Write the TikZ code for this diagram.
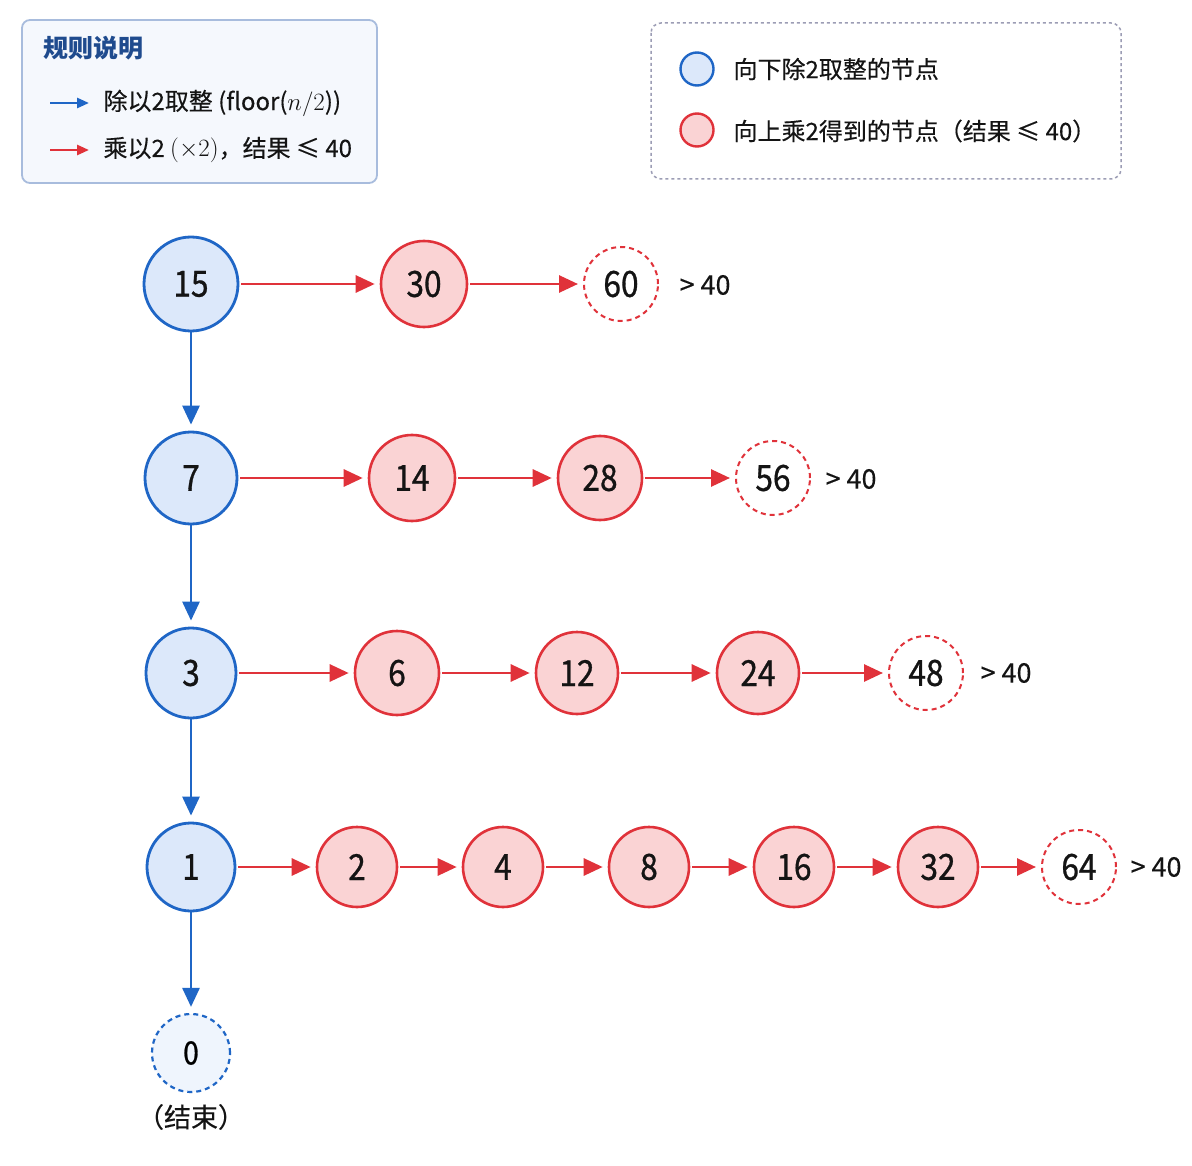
\documentclass[tikz,border=0pt]{standalone}
\usepackage{fontspec}
\setmainfont{Noto Sans CJK SC}
\newfontfamily\numfont[FakeBold=0.8,FakeStretch=0.88]{Noto Sans CJK SC}
\newfontfamily\lgfont[FakeBold=0.3]{Noto Sans CJK SC}
\usetikzlibrary{arrows.meta}
\definecolor{bblue}{HTML}{1F66C6}
\definecolor{bfill}{HTML}{DCE8FA}
\definecolor{rred}{HTML}{E0323A}
\definecolor{rfill}{HTML}{FAD3D4}
\definecolor{ttl}{HTML}{1F4B8E}
\definecolor{lgbg}{HTML}{F5F8FD}
\definecolor{lgbd}{HTML}{A8BCDD}
\definecolor{lgdash}{HTML}{9C9DB5}
\definecolor{txt}{HTML}{141414}
\begin{document}
\begin{tikzpicture}[x=1pt,y=-1pt,
  numf/.style={font=\numfont\fontsize{36}{40}\selectfont, text=txt},
  bnode/.style={circle, draw=bblue, fill=bfill, line width=2.8pt, minimum size=#1, inner sep=0pt, numf},
  bnode/.default=92pt,
  rnode/.style={circle, draw=rred, fill=rfill, line width=2.6pt, minimum size=#1, inner sep=0pt, numf},
  rnode/.default=84pt,
  rdash/.style={circle, draw=rred, dash pattern=on 5pt off 4pt, line width=2pt, minimum size=74pt, inner sep=0pt, numf},
  bdash/.style={circle, draw=bblue, fill=bfill!45, dash pattern=on 5pt off 4pt, line width=2.2pt, minimum size=78pt, inner sep=0pt, font=\numfont\fontsize{32}{36}\selectfont},
  rarr/.style={draw=rred, line width=2.8pt, -{Triangle[length=19pt,width=17pt]}, shorten <=2pt, shorten >=5pt},
  barr/.style={draw=bblue, line width=2.8pt, -{Triangle[length=19pt,width=17pt]}, shorten >=6pt},
  gt/.style={anchor=west, font=\lgfont\fontsize{27}{30}\selectfont, text=txt},
  lgt/.style={anchor=west, font=\lgfont\fontsize{24}{28}\selectfont, text=txt}
]
\useasboundingbox (0,0) rectangle (1192,1166);
\fill[white] (0,0) rectangle (1192,1166);

% legend 1
\draw[draw=lgbd, fill=lgbg, line width=1.8pt, rounded corners=8pt] (22,20) rectangle (377,183);
\node[anchor=west, font=\bfseries\fontsize{25}{28}\selectfont, text=ttl] (ttl) at (40,48) {规则说明};
\coordinate (lb1) at (50,103); \coordinate (lb2) at (89,103);
\draw[draw=bblue, line width=2.6pt, -{Triangle[length=12pt,width=10pt]}] (lb1) -- (lb2);
\node[lgt] (lt1) at (100,103) {除以2取整 (floor($n/2$))};
\coordinate (lr1) at (50,150); \coordinate (lr2) at (89,150);
\draw[draw=rred, line width=2.6pt, -{Triangle[length=12pt,width=10pt]}] (lr1) -- (lr2);
\node[lgt] (lt2) at (100,150) {乘以2 $(\times 2)$，结果 ≤ 40};

% legend 2
\draw[draw=lgdash, line width=1.5pt, dash pattern=on 3pt off 3pt, rounded corners=10pt] (651,23) rectangle (1121,179);
\node[circle, draw=bblue, fill=bfill, line width=2.4pt, minimum size=33pt, inner sep=0pt] (lc1) at (697,69) {};
\node[lgt] (lt3) at (730,69) {向下除2取整的节点};
\node[circle, draw=rred, fill=rfill, line width=2.4pt, minimum size=33pt, inner sep=0pt] (lc2) at (697,130) {};
\node[lgt] (lt4) at (730,131) {向上乘2得到的节点（结果 ≤ 40）};

% row 1
\node[bnode=94pt] (n15) at (191,284) {15};
\node[rnode=86pt] (n30) at (424,284) {30};
\node[rdash=76pt] (n60) at (621,284) {60};
\node[gt] (g1) at (676,285) {> 40};
\draw[rarr] (n15) -- (n30);
\draw[rarr] (n30) -- (n60);

% row 2
\node[bnode=92pt] (n7) at (191,478) {7};
\node[rnode=86pt] (n14) at (412,478) {14};
\node[rnode=84pt] (n28) at (600,478) {28};
\node[rdash] (n56) at (773,478) {56};
\node[gt] (g2) at (822,479) {> 40};
\draw[rarr] (n7) -- (n14);
\draw[rarr] (n14) -- (n28);
\draw[rarr] (n28) -- (n56);

% row 3
\node[bnode=90pt] (n3) at (191,673) {3};
\node[rnode=84pt] (n6) at (397,673) {6};
\node[rnode=82pt] (n12) at (577,673) {12};
\node[rnode=82pt] (n24) at (758,673) {24};
\node[rdash] (n48) at (926,673) {48};
\node[gt] (g3) at (977,673) {> 40};
\draw[rarr] (n3) -- (n6);
\draw[rarr] (n6) -- (n12);
\draw[rarr] (n12) -- (n24);
\draw[rarr] (n24) -- (n48);

% row 4
\node[bnode=88pt] (n1) at (191,867) {1};
\node[rnode=80pt] (n2) at (357,867) {2};
\node[rnode=80pt] (n4) at (503,867) {4};
\node[rnode=80pt] (n8) at (649,867) {8};
\node[rnode=80pt] (n16) at (794,867) {16};
\node[rnode=80pt] (n32) at (938,867) {32};
\node[rdash] (n64) at (1079,867) {64};
\node[gt] (g4) at (1127,867) {> 40};
\draw[rarr] (n1) -- (n2);
\draw[rarr] (n2) -- (n4);
\draw[rarr] (n4) -- (n8);
\draw[rarr] (n8) -- (n16);
\draw[rarr] (n16) -- (n32);
\draw[rarr] (n32) -- (n64);

% bottom
\node[bdash] (n0) at (191,1053) {0};
\node[font=\lgfont\fontsize{27}{30}\selectfont, text=txt] (end) at (191,1117) {（结束）};

% blue arrows
\draw[barr] (n15) -- (n7);
\draw[barr] (n7) -- (n3);
\draw[barr] (n3) -- (n1);
\draw[barr] (n1) -- (n0);
\end{tikzpicture}
\end{document}
